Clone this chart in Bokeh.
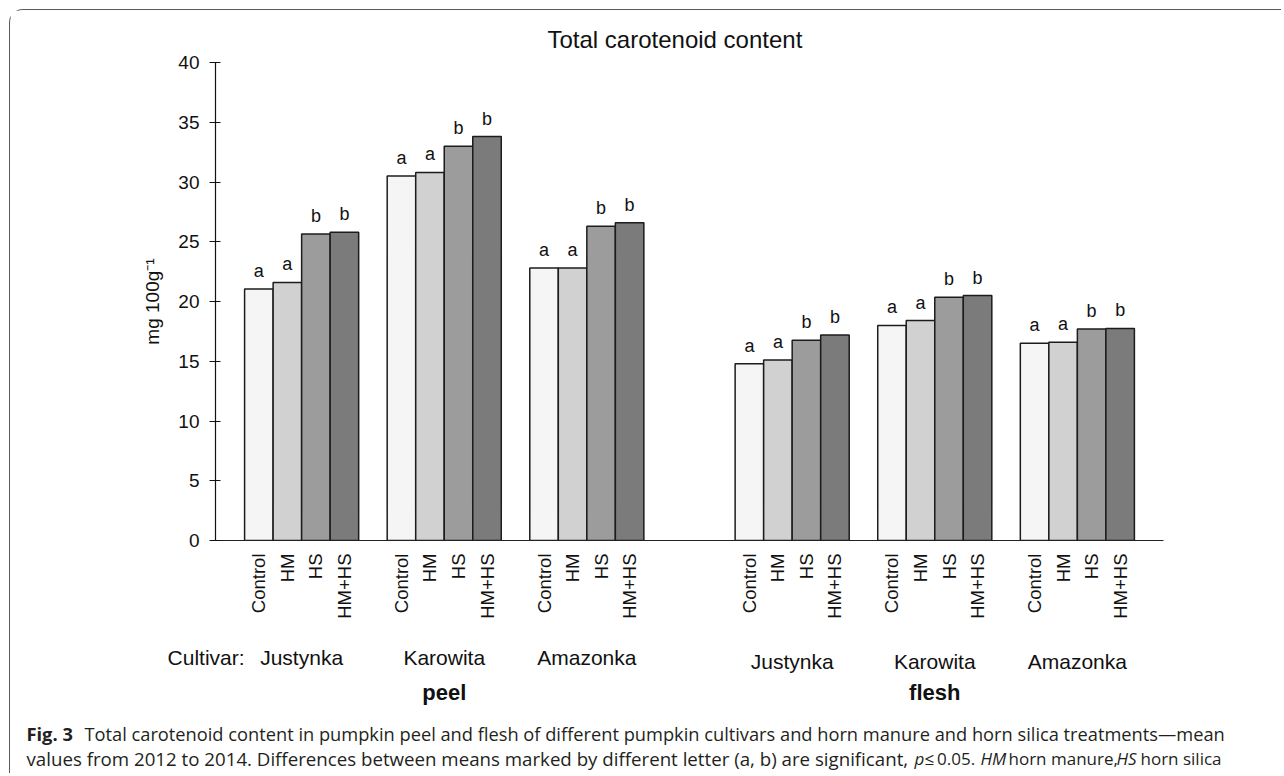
import math
from bokeh.plotting import figure
from bokeh.models import (ColumnDataSource, Label, FixedTicker, CustomJSTickFormatter, Range1d, Title)
from bokeh.core.properties import value
from bokeh.embed import file_html
from bokeh.resources import INLINE

# ---------------- data ----------------
chart_title = "Total carotenoid content"
y_label = "mg 100g\u207b\u00b9"
tissues = ["peel", "flesh"]
cultivars = ["Justynka", "Karowita", "Amazonka"]
treatments = ["Control", "HM", "HS", "HM+HS"]
y_ticks = [0, 5, 10, 15, 20, 25, 30, 35, 40]

peel_justynka = [21.05, 21.6, 25.65, 25.8]
peel_karowita = [30.5, 30.8, 33.0, 33.8]
peel_amazonka = [22.8, 22.8, 26.3, 26.6]
flesh_justynka = [14.8, 15.1, 16.75, 17.2]
flesh_karowita = [18.0, 18.4, 20.35, 20.5]
flesh_amazonka = [16.5, 16.6, 17.7, 17.75]

letters_peel_justynka = ["a", "a", "b", "b"]
letters_peel_karowita = ["a", "a", "b", "b"]
letters_peel_amazonka = ["a", "a", "b", "b"]
letters_flesh_justynka = ["a", "a", "b", "b"]
letters_flesh_karowita = ["a", "a", "b", "b"]
letters_flesh_amazonka = ["a", "a", "b", "b"]

caption_bold = "Fig. 3"
caption_line1 = ("Total carotenoid content in pumpkin peel and flesh of different pumpkin cultivars "
                 "and horn manure and horn silica treatments\u2014mean")
caption_line2_parts = [
    ("values from 2012 to 2014. Differences between means marked by different letter (a, b) are significant,", "normal"),
    ("p", "italic"),
    ("\u2264\u20090.05.", "normal"),
    ("HM", "italic"),
    ("horn manure,", "normal"),
    ("HS", "italic"),
    ("horn silica", "normal"),
]

# ---------------- styles ----------------
treatment_colors = ["#f4f5f4", "#d0d1d0", "#9c9c9c", "#7b7b7b"]
FONT = "Liberation Sans"
CAP_FONT = "Open Sans"
INK = "#111111"

values = {
    ("peel", "Justynka"): (peel_justynka, letters_peel_justynka),
    ("peel", "Karowita"): (peel_karowita, letters_peel_karowita),
    ("peel", "Amazonka"): (peel_amazonka, letters_peel_amazonka),
    ("flesh", "Justynka"): (flesh_justynka, letters_flesh_justynka),
    ("flesh", "Karowita"): (flesh_karowita, letters_flesh_karowita),
    ("flesh", "Amazonka"): (flesh_amazonka, letters_flesh_amazonka),
}

# layout in bar units
tissue_start = {"peel": 0.0, "flesh": 17.2}
group_step = 5
x_start, x_end = -1.02, 32.22

xs, tops, cols, lets = [], [], [], []
for t in tissues:
    for ci, c in enumerate(cultivars):
        vals, lt = values[(t, c)]
        for k, v in enumerate(vals):
            xs.append(tissue_start[t] + ci * group_step + k + 0.5)
            tops.append(v)
            cols.append(treatment_colors[k])
            lets.append(lt[k])

src = ColumnDataSource(dict(x=xs, top=tops, color=cols, letter=lets))

# page geometry (image pixels)
OFF = 10                 # canvas origin in the page (margin + border)
W = 1272
FL, FR, FT, FB = 215, 1163, 62, 540   # plotting area for y in [0, 40]
MAIN_BOTTOM = 632        # end of the chart figure
CAP_BOTTOM = 774

def px_of(x):
    return FL + (x - x_start) * (FR - FL) / (x_end - x_start)

H_main = MAIN_BOTTOM - OFF
p = figure(width=W, height=H_main, output_backend="svg", toolbar_location=None,
           x_range=Range1d(x_start, x_end), y_range=Range1d(0, 40),
           min_border_left=FL - OFF, min_border_right=W - (FR - OFF),
           min_border_top=FT - OFF, min_border_bottom=H_main - (FB - OFF))
p.outline_line_color = None
p.xgrid.visible = False
p.ygrid.visible = False
p.background_fill_color = "white"
p.border_fill_color = "white"
p.styles = {"margin-left": "9px", "margin-top": "9px",
            "border-left": "1px solid #5a5a5a", "border-top": "1px solid #5a5a5a",
            "border-top-left-radius": "14px"}

p.title = Title(text=chart_title, align="left", offset=332, standoff=20,
                text_font=FONT, text_font_size="24px", text_font_style="normal",
                text_color=INK)

p.vbar(x="x", top="top", bottom=0, width=1.0, fill_color="color",
       line_color="#1c1c1c", line_width=1.5, source=src)

p.text(x="x", y="top", text="letter", source=src, y_offset=-18,
       text_align="center", text_baseline="alphabetic",
       text_font=value(FONT), text_font_size="18px", text_color=INK)

# y axis
ya = p.yaxis[0]
ya.ticker = FixedTicker(ticks=y_ticks, minor_ticks=[])
ya.axis_line_color = INK
ya.axis_line_width = 1.2
ya.major_tick_line_color = INK
ya.major_tick_line_width = 1.2
ya.major_tick_out = 6
ya.major_tick_in = 5
ya.minor_tick_line_color = None
ya.major_label_standoff = 10
ya.major_label_text_font = FONT
ya.major_label_text_font_size = "19px"
ya.major_label_text_color = INK
ya.axis_label = y_label
ya.axis_label_text_font = FONT
ya.axis_label_text_font_size = "19px"
ya.axis_label_text_font_style = "normal"
ya.axis_label_text_color = INK
ya.axis_label_standoff = 12

# x axis
xa = p.xaxis[0]
xa.ticker = FixedTicker(ticks=xs, minor_ticks=[])
xa.formatter = CustomJSTickFormatter(args=dict(names=treatments),
                                     code="return names[index % names.length];")
xa.major_label_orientation = math.pi / 2
xa.major_tick_line_color = None
xa.major_tick_out = 0
xa.major_tick_in = 0
xa.minor_tick_line_color = None
xa.major_label_standoff = 13
xa.major_label_text_font = FONT
xa.major_label_text_font_size = "18.5px"
xa.major_label_text_color = INK
xa.axis_line_color = "#222222"
xa.axis_line_width = 1.2

# -------- lower text band: a second canvas whose frame fills it ---------
H_cap = CAP_BOTTOM - MAIN_BOTTOM
q = figure(width=W, height=H_cap, output_backend="svg", toolbar_location=None,
           x_range=Range1d(OFF, OFF + W), y_range=Range1d(CAP_BOTTOM, MAIN_BOTTOM),
           x_axis_location=None, y_axis_location=None,
           min_border_left=0, min_border_right=0, min_border_top=0, min_border_bottom=0)
q.outline_line_color = None
q.xgrid.visible = False
q.ygrid.visible = False
q.background_fill_color = "white"
q.border_fill_color = "white"
q.styles = {"margin-left": "9px", "border-left": "1px solid #5a5a5a"}

cult_base = {"peel": 658, "flesh": 662}
for t in tissues:
    for ci, c in enumerate(cultivars):
        cx = px_of(tissue_start[t] + ci * group_step + 2)
        q.add_layout(Label(x=cx, y=cult_base[t], text=c, text_align="center",
                           text_baseline="alphabetic", text_font=FONT,
                           text_font_size="21px", text_color=INK))
q.add_layout(Label(x=px_of(tissue_start["peel"] + 2), y=cult_base["peel"], x_offset=-57,
                   text="Cultivar:", text_align="right", text_baseline="alphabetic",
                   text_font=FONT, text_font_size="21px", text_color=INK))

for t in tissues:
    cx = px_of(tissue_start[t] + (len(cultivars) * group_step - 1) / 2)
    q.add_layout(Label(x=cx, y=693, text=t, text_align="center",
                       text_baseline="middle", text_font=FONT, text_font_size="22px",
                       text_font_style="bold", text_color=INK))

cap_color = "#231f20"
q.add_layout(Label(x=26, y=734, text=caption_bold, text_align="left",
                   text_baseline="alphabetic", text_font=CAP_FONT, text_font_size="18.3px",
                   text_font_style="bold", text_color=cap_color))
q.add_layout(Label(x=84, y=734, text=caption_line1, text_align="left",
                   text_baseline="alphabetic", text_font=CAP_FONT, text_font_size="18.25px",
                   text_color=cap_color))
# (x position, size) of the second caption line segments
line2_layout = [(26, "18.7px"), (914, "17px"), (924, "17px"),
                (980, "17px"), (1008, "17px"), (1116, "17px"), (1140, "17px")]
for (txt, style), (px, sz) in zip(caption_line2_parts, line2_layout):
    q.add_layout(Label(x=px, y=759, text=txt, text_align="left",
                       text_baseline="alphabetic", text_font=CAP_FONT, text_font_size=sz,
                       text_font_style=style, text_color=cap_color))

open("out.html", "w").write(file_html([p, q], INLINE))
